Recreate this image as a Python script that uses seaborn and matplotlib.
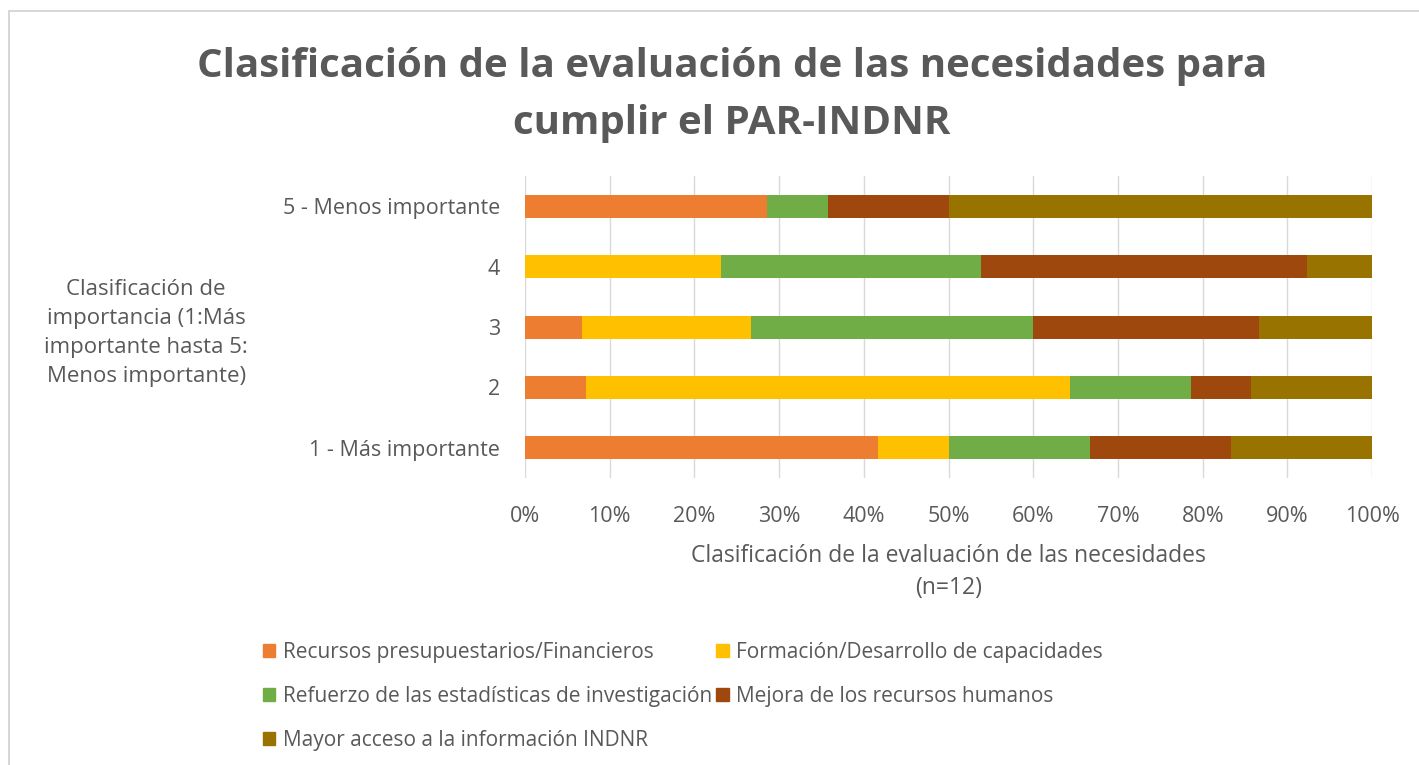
import matplotlib.pyplot as plt
import matplotlib.patches as mpatches
import pandas as pd
import seaborn as sns

rangos = ["5 - Menos importante", "4", "3", "2", "1 - Más importante"]
series = [
    "Recursos presupuestarios/Financieros",
    "Formación/Desarrollo de capacidades",
    "Refuerzo de las estadísticas de investigación",
    "Mejora de los recursos humanos",
    "Mayor acceso a la información INDNR",
]
recursos = [28.57, 0.0, 6.67, 7.14, 41.67]
formacion = [0.0, 23.08, 20.0, 57.14, 8.33]
refuerzo = [7.14, 30.77, 33.33, 14.29, 16.67]
mejora = [14.29, 38.46, 26.67, 7.14, 16.67]
acceso = [50.0, 7.69, 13.33, 14.29, 16.67]
colores = ["#ED7D31", "#FFC000", "#70AD47", "#9E480E", "#997300"]
ticks_x = [0, 10, 20, 30, 40, 50, 60, 70, 80, 90, 100]

gris = "#595959"

df = pd.DataFrame(
    {"rango": rangos, series[0]: recursos, series[1]: formacion,
     series[2]: refuerzo, series[3]: mejora, series[4]: acceso}
)
acumulado = df[series].cumsum(axis=1)

sns.set_style("white")
plt.rcParams["font.family"] = ["Open Sans", "DejaVu Sans"]

fig = plt.figure(figsize=(14.19, 7.65), dpi=100)
ax = fig.add_axes([0.37, 0.375, 0.597, 0.395])

# barras apiladas: se dibuja el acumulado de mayor a menor
for serie, color in reversed(list(zip(series, colores))):
    sns.barplot(
        x=acumulado[serie],
        y=df["rango"],
        order=rangos,
        orient="h",
        color=color,
        width=0.38,
        saturation=1,
        linewidth=0,
        ax=ax,
    )

ax.set_xlim(0, 100)
ax.set_ylim(4.5, -0.5)
ax.set_xticks(ticks_x)
ax.set_xticklabels([f"{t}%" for t in ticks_x], color=gris, fontsize=15.5)
ax.tick_params(axis="y", labelsize=15.5, labelcolor=gris, length=0, pad=18)
ax.tick_params(axis="x", length=0, pad=20)
ax.grid(True, axis="x", color="#D9D9D9", linewidth=1)
ax.set_axisbelow(True)
for lado in ["top", "right", "bottom", "left"]:
    ax.spines[lado].set_visible(False)
ax.set_ylabel("")
ax.set_xlabel(
    "Clasificación de la evaluación de las necesidades\n(n=12)",
    color=gris, fontsize=16.5, labelpad=12, linespacing=1.45,
)

fig.text(
    0.516, 0.876,
    "Clasificación de la evaluación de las necesidades para\ncumplir el PAR-INDNR",
    ha="center", va="center", fontsize=29, fontweight="bold", color=gris,
    linespacing=1.6,
)
fig.text(
    0.103, 0.565,
    "Clasificación de\nimportancia (1:Más\nimportante hasta 5:\nMenos importante)",
    ha="center", va="center", fontsize=16, color=gris, linespacing=1.5,
)

handles = [mpatches.Patch(color=c, label=s) for s, c in zip(series, colores)]
orden = [0, 2, 4, 1, 3]
fig.legend(
    [handles[i] for i in orden],
    [series[i] for i in orden],
    ncol=2,
    loc="upper left",
    bbox_to_anchor=(0.172, 0.185),
    frameon=False,
    fontsize=15,
    labelcolor=gris,
    handlelength=0.6,
    handleheight=0.6,
    handletextpad=0.35,
    columnspacing=0.2,
    labelspacing=1.1,
)

# marco gris del gráfico
fig.add_artist(
    mpatches.Rectangle(
        (0.006, -0.05), 1.2, 1.035, transform=fig.transFigure,
        fill=False, edgecolor="#D0D0D0", linewidth=1.2,
    )
)

fig.savefig("out.png", dpi=100, facecolor="white")
